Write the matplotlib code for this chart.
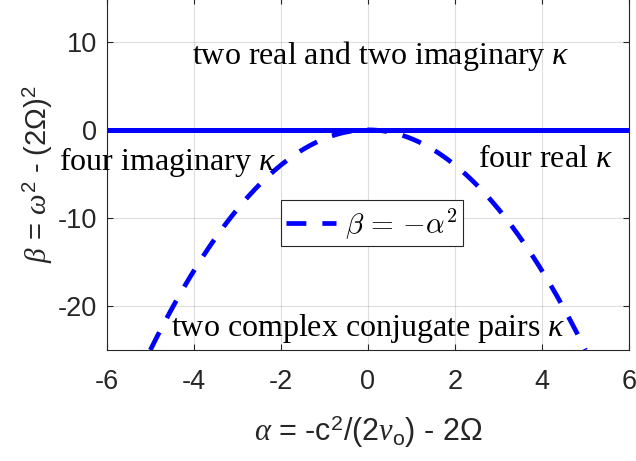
import numpy as np
import matplotlib
matplotlib.use("Agg")
import matplotlib.pyplot as plt

plt.rcParams['font.family'] = ['Liberation Sans', 'DejaVu Sans']
plt.rcParams['mathtext.fontset'] = 'custom'
plt.rcParams['mathtext.rm'] = 'Liberation Sans'
plt.rcParams['mathtext.it'] = 'Liberation Serif:italic'
plt.rcParams['mathtext.bf'] = 'Liberation Sans:bold'
plt.rcParams['axes.unicode_minus'] = False

# boundary curve beta = -alpha^2, sampled on alpha in [-5, 5]
alpha_lo, alpha_hi = -5.0, 5.0
alpha_fine = np.linspace(alpha_lo, alpha_hi, 201)
beta_fine = -alpha_fine ** 2

# beta = 0 boundary
zero_x = [-6, 6]
zero_y = [0, 0]

region_labels = ["two real and two imaginary $\\kappa$",
                 "four imaginary $\\kappa$",
                 "four real $\\kappa$",
                 "two complex conjugate pairs $\\kappa$"]
region_x = [0.3, -4.62, 4.07, 0.0]
region_y = [8.4, -3.6, -3.4, -22.6]

xticks = [-6, -4, -2, 0, 2, 4, 6]
yticks = [-20, -10, 0, 10]

dark = '#262626'
blue = '#0000ff'

fig = plt.figure(figsize=(6.36, 4.61), dpi=100)
ax = fig.add_axes([0.168, 0.2408, 0.821, 0.764])

ax.plot(zero_x, zero_y, color=blue, linewidth=3.6, solid_capstyle='butt')
ax.plot(alpha_fine, beta_fine, color=blue, linewidth=3.4, linestyle=(0, (4.2, 3.4)),
        label=r'$\beta\,=\,{-}\alpha^2$')

for txt, tx, ty in zip(region_labels, region_x, region_y):
    ax.text(tx, ty, txt, ha='center', va='center', fontsize=23,
            family=['Liberation Serif', 'DejaVu Serif'], clip_on=False, color='black')

ax.set_xlim(-6, 6)
ax.set_ylim(-25, 15)
ax.set_xticks(xticks)
ax.set_yticks(yticks)
ax.grid(True, color='#262626', alpha=0.15, linewidth=0.8)
ax.tick_params(direction='in', length=4, width=0.8, colors=dark, labelsize=19.5,
               top=True, right=True)
ax.tick_params(axis='x', pad=13.5)
ax.tick_params(axis='y', pad=7)
for s in ax.spines.values():
    s.set_color(dark)
    s.set_linewidth(0.8)

ax.set_xlabel(r'$\alpha$ = -c$^2$/(2$\nu_{\rm o}$) - 2$\Omega$', fontsize=22,
              color=dark, labelpad=13)
ax.set_ylabel(r'$\beta$ = $\omega^2$ - (2$\Omega$)$^2$', fontsize=21,
              color=dark, labelpad=2)

leg = ax.legend(loc='center', bbox_to_anchor=(0.09, -10.6), bbox_transform=ax.transData,
                prop={'size': 21, 'math_fontfamily': 'cm'}, fancybox=False,
                edgecolor=dark, framealpha=1, handlelength=1.7, handletextpad=0.3,
                borderpad=0.2, borderaxespad=0)
leg.get_frame().set_linewidth(0.8)

fig.savefig('out.png', dpi=100)
